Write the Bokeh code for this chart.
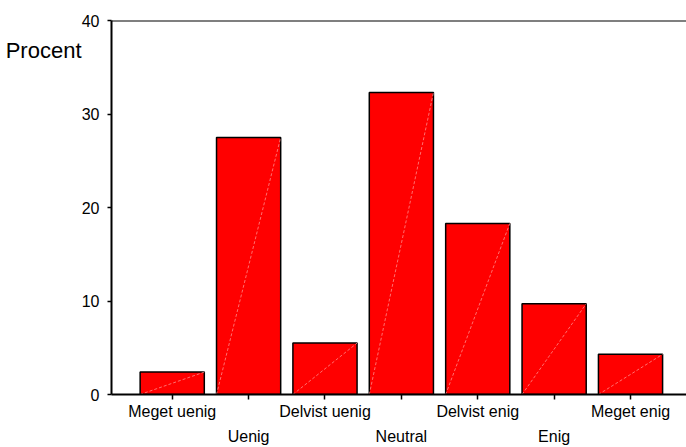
from bokeh.plotting import figure
from bokeh.models import Range1d, LinearAxis, FixedTicker, Span, ColumnDataSource
from bokeh.embed import file_html
from bokeh.resources import INLINE

categories = ["Meget uenig", "Uenig", "Delvist uenig", "Neutral",
              "Delvist enig", "Enig", "Meget enig"]
percent = [2.4, 27.5, 5.5, 32.3, 18.3, 9.7, 4.3]
y_ticks = [0, 10, 20, 30, 40]
y_label = "Procent"

positions = list(range(1, len(categories) + 1))
bar_w = 0.84
src = ColumnDataSource(dict(
    x=positions,
    top=percent,
    left=[x - bar_w / 2 for x in positions],
    right=[x + bar_w / 2 for x in positions],
    zero=[0] * len(positions),
))

FONT = "Liberation Sans"

p = figure(width=686, height=447, output_backend="svg", toolbar_location=None,
           x_range=Range1d(0.205, 7.733), y_range=Range1d(0, 40),
           min_border_left=111, min_border_right=0, min_border_top=20,
           min_border_bottom=53, x_axis_type=None)
p.outline_line_color = None
p.grid.visible = False
p.background_fill_color = "white"

p.vbar(x="x", top="top", width=bar_w, source=src, fill_color="#ff0000",
       line_color="black", line_width=1.5)
p.segment(x0="left", y0="zero", x1="right", y1="top", source=src,
          line_color="#ff8c8c", line_width=0.8, line_dash="3 2")

# y axis
ya = p.yaxis[0]
ya.ticker = FixedTicker(ticks=y_ticks)
ya.minor_tick_line_color = None
ya.major_tick_in = 0
ya.major_tick_out = 4
ya.major_tick_line_width = 1.5
ya.axis_line_width = 2
ya.major_label_standoff = 8
ya.major_label_text_font = FONT
ya.major_label_text_font_size = "16px"
ya.major_label_text_color = "black"

# "Procent" as a horizontal label to the left of the y axis
ya2 = LinearAxis(ticker=FixedTicker(ticks=[36.8]), major_label_overrides={36.8: y_label})
ya2.axis_line_color = None
ya2.major_tick_line_color = None
ya2.minor_tick_line_color = None
ya2.major_tick_in = 0
ya2.major_tick_out = 0
ya2.major_label_standoff = -3
ya2.major_label_text_font = FONT
ya2.major_label_text_font_size = "22px"
ya2.major_label_text_color = "black"
p.add_layout(ya2, "left")

# x axis row 1 (odd categories) with ticks at every category
odd = {positions[i]: (categories[i] if i % 2 == 0 else "") for i in range(len(categories))}
xa1 = LinearAxis(ticker=FixedTicker(ticks=positions), major_label_overrides=odd)
xa1.minor_tick_line_color = None
xa1.major_tick_in = 0
xa1.major_tick_out = 5
xa1.major_tick_line_width = 1.5
xa1.axis_line_width = 2
xa1.major_label_standoff = 3
xa1.major_label_text_font = FONT
xa1.major_label_text_font_size = "16px"
xa1.major_label_text_color = "black"
p.add_layout(xa1, "below")

# x axis row 2 (even categories)
even_pos = [positions[i] for i in range(len(categories)) if i % 2 == 1]
even = {positions[i]: categories[i] for i in range(len(categories)) if i % 2 == 1}
xa2 = LinearAxis(ticker=FixedTicker(ticks=even_pos), major_label_overrides=even)
xa2.axis_line_color = None
xa2.major_tick_line_color = None
xa2.minor_tick_line_color = None
xa2.major_tick_in = 0
xa2.major_tick_out = 0
xa2.major_label_standoff = 5
xa2.major_label_text_font = FONT
xa2.major_label_text_font_size = "16px"
xa2.major_label_text_color = "black"
p.add_layout(xa2, "below")

# top line
p.add_layout(Span(location=40, dimension="width", line_color="black", line_width=2))

open("out.html", "w").write(file_html(p, INLINE))
